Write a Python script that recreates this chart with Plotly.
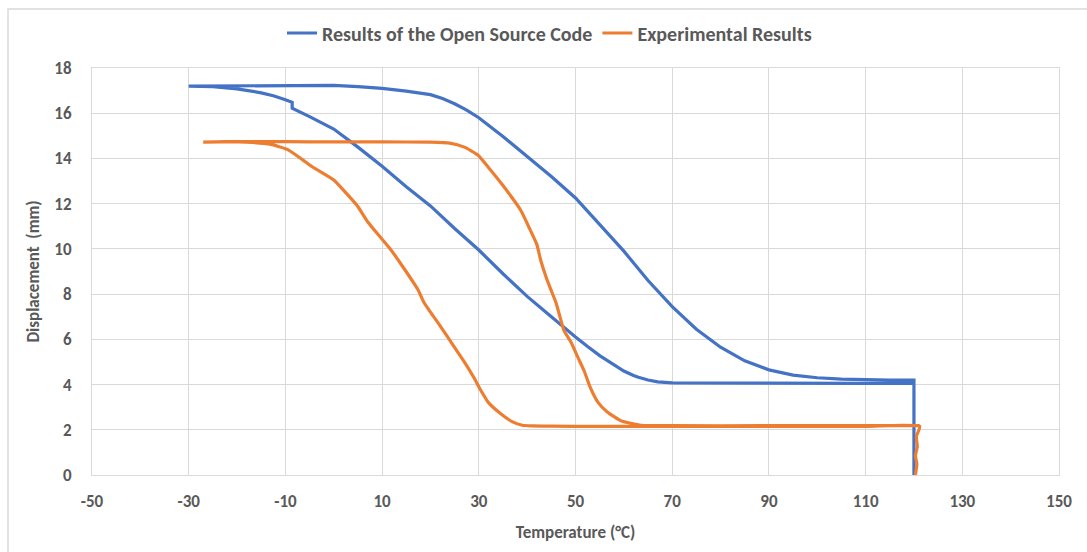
import plotly.graph_objects as go

# Simulated displacement loop (cooling branch, then heating branch)
sim_temp = [120, 120, 110, 100, 90, 80, 75, 70, 67, 65, 63, 62, 60, 57.5, 55, 52.5, 50, 45, 40, 35, 30, 25, 20, 15,
            10, 5, 0, -5, -8.6, -8.6, -10, -12.5, -15, -20, -25, -30,
            -25, -20, -10, -5, 0, 5, 10, 15, 18, 20, 22.5, 25, 27.5, 30, 35, 40, 45, 50, 55, 60, 65, 70,
            75, 80, 85, 90, 95, 100, 105, 110, 115, 120, 120]
sim_disp = [0.0, 4.05, 4.05, 4.05, 4.05, 4.05, 4.05, 4.07, 4.12, 4.2, 4.32, 4.4, 4.6, 4.92, 5.28, 5.68, 6.1, 7.0, 7.9, 8.9, 9.95, 10.9, 11.9, 12.75,
            13.65, 14.5, 15.3, 15.85, 16.22, 16.48, 16.6, 16.77, 16.9, 17.08, 17.17, 17.2,
            17.2, 17.21, 17.22, 17.23, 17.23, 17.18, 17.1, 16.98, 16.9, 16.82, 16.65, 16.42, 16.14, 15.8, 14.97, 14.1, 13.2, 12.25, 11.1, 9.9, 8.6, 7.45,
            6.45, 5.65, 5.05, 4.65, 4.42, 4.3, 4.24, 4.21, 4.2, 4.2, 4.05]

# Measured displacement loop (cooling branch, then heating branch)
exp_temp = [120.3, 120.6, 120.3, 120.7, 120.5, 121.2, 110, 90, 70, 55, 45, 41, 39, 37, 34.6, 32, 30.4, 29, 27, 24.8,
            22, 20, 18.6, 17.4, 14, 11.8, 9.7, 7, 4.9, 2, 0, -4.2, -6.5, -9.6, -13, -18, -22, -27,
            -20, -10, 0, 10, 20, 24, 27, 29.8, 32, 35, 38.7, 40.5, 42, 42.8, 44, 44.9, 46, 47.6, 49, 50.5,
            51.8, 53, 54.7, 56.5, 59.4, 63.6, 70, 90, 110, 121.2]
exp_disp = [0.0, 0.5, 0.85, 1.25, 1.7, 2.15, 2.15, 2.15, 2.15, 2.15, 2.16, 2.17, 2.2, 2.35, 2.7, 3.2, 3.75, 4.3, 5.0, 5.7,
            6.6, 7.2, 7.65, 8.2, 9.3, 9.96, 10.5, 11.2, 11.9, 12.6, 13.05, 13.6, 13.95, 14.4, 14.62, 14.72, 14.74, 14.72,
            14.75, 14.74, 14.73, 14.73, 14.72, 14.68, 14.5, 14.15, 13.6, 12.8, 11.7, 10.9, 10.2, 9.5, 8.7, 8.2, 7.6, 6.4, 5.9, 5.2,
            4.6, 3.9, 3.2, 2.8, 2.4, 2.2, 2.18, 2.18, 2.18, 2.18]

x_ticks = [-50, -30, -10, 10, 30, 50, 70, 90, 110, 130, 150]
y_ticks = [0, 2, 4, 6, 8, 10, 12, 14, 16, 18]

FONT = "Carlito, Lato, 'Open Sans', sans-serif"
GREY = "#595959"
GRID = "#D9D9D9"

W, H = 1087, 552
L, R, T, B = 92, 28, 68, 77

fig = go.Figure()
fig.add_trace(go.Scatter(x=sim_temp, y=sim_disp, mode="lines", name="Results of the Open Source Code",
                         line=dict(color="#4472C4", width=3.2)))
fig.add_trace(go.Scatter(x=exp_temp, y=exp_disp, mode="lines", name="Experimental Results",
                         line=dict(color="#ED7D31", width=3.2, shape="spline", smoothing=0.5)))

pw = W - L - R
ph = H - T - B
# outer chart frame
fig.add_shape(type="rect", xref="paper", yref="paper",
              x0=(8 - L) / pw, x1=(W + 10 - L) / pw,
              y0=(H - B - (H + 10)) / ph, y1=(H - B - 9) / ph,
              line=dict(color=GRID, width=1.5), fillcolor="rgba(0,0,0,0)", layer="below")

fig.update_layout(
    width=W, height=H,
    margin=dict(l=L, r=R, t=T, b=B),
    paper_bgcolor="white", plot_bgcolor="white",
    font=dict(family=FONT, color=GREY, size=17),
    showlegend=True,
    legend=dict(orientation="h", x=(W / 2 + 6 - L) / pw, xanchor="center", y=1.0 + (T - 33) / ph, yanchor="middle",
                font=dict(size=20, color=GREY, family=FONT, weight="bold"),
                tracegroupgap=0, traceorder="normal"),
    xaxis=dict(range=[-50, 150], tickvals=x_ticks, ticktext=[str(v) for v in x_ticks],
               showgrid=True, gridcolor=GRID, gridwidth=1, zeroline=False,
               showline=True, linecolor=GRID, linewidth=1, mirror=True, ticks="",
               ticklabelstandoff=11,
               tickfont=dict(size=17, family=FONT, color=GREY, weight="bold"),
               title=dict(text="Temperature (°C)", font=dict(size=17, family=FONT, color=GREY, weight="bold"),
                          standoff=14)),
    yaxis=dict(range=[0, 18], tickvals=y_ticks, ticktext=[str(v) for v in y_ticks],
               showgrid=True, gridcolor=GRID, gridwidth=1, zeroline=False,
               showline=True, linecolor=GRID, linewidth=1, mirror=True, ticks="",
               ticklabelstandoff=16,
               tickfont=dict(size=17, family=FONT, color=GREY, weight="bold"),
               title=dict(text="Displacement  (mm)", font=dict(size=17, family=FONT, color=GREY, weight="bold"),
                          standoff=10)),
)

fig.write_html("out.html")
